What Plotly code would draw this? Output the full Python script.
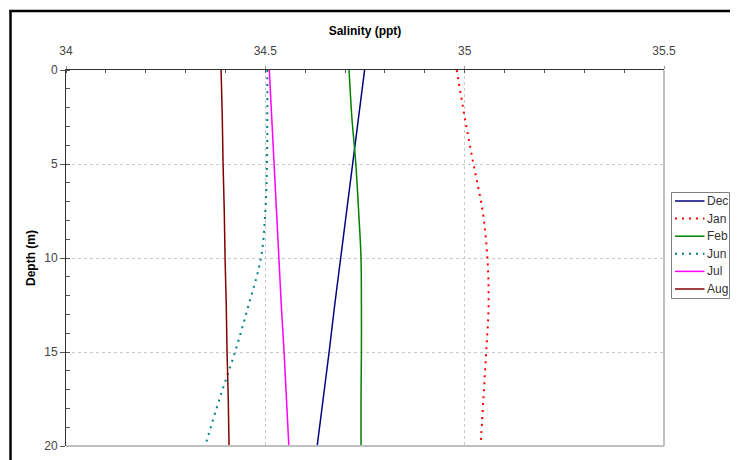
import plotly.graph_objects as go

depth = [0, 2.5, 5, 7.5, 10, 12.5, 15, 17.5, 20]

dec = [34.749, 34.734, 34.719, 34.704, 34.689, 34.674, 34.660, 34.645, 34.630]
jan = [34.980, 35.000, 35.022, 35.045, 35.057, 35.060, 35.054, 35.047, 35.040]
feb = [34.710, 34.717, 34.727, 34.734, 34.740, 34.741, 34.741, 34.740, 34.740]
jun = [34.505, 34.505, 34.504, 34.500, 34.489, 34.458, 34.424, 34.385, 34.349]
jul = [34.510, 34.516, 34.522, 34.528, 34.534, 34.540, 34.547, 34.553, 34.559]
aug = [34.389, 34.392, 34.394, 34.397, 34.399, 34.402, 34.404, 34.407, 34.409]

series = [
    ("Dec", dec, "#000080", "solid"),
    ("Jan", jan, "#ff0000", "2px,5px"),
    ("Feb", feb, "#008000", "solid"),
    ("Jun", jun, "#008080", "2px,5px"),
    ("Jul", jul, "#ff00ff", "solid"),
    ("Aug", aug, "#800000", "solid"),
]

OFF = 8  # page body margin
W, H = 738 - OFF, 460 - OFF
L, R, T, B = 66 - OFF, 664 - OFF, 70 - OFF, 446 - OFF


def px(xs):
    return (xs - OFF - L) / (R - L)


def py(ys):
    return 1 - (ys - OFF - T) / (B - T)


fig = go.Figure()
for name, vals, color, dash in series:
    fig.add_trace(go.Scatter(
        x=vals, y=depth, name=name, mode="lines",
        line=dict(color=color, width=2 if dash != "solid" else 1.5, dash=dash, shape="spline"),
    ))

LX0, LX1 = 671.5, 729.5  # legend box edges (screen px)
shapes = [
    dict(type="line", xref="paper", yref="paper", x0=1, x1=1, y0=0, y1=1,
         line=dict(color="#c0c0c0", width=2)),
    dict(type="line", xref="paper", yref="paper", x0=0, x1=1, y0=0, y1=0,
         line=dict(color="#c0c0c0", width=2)),
    dict(type="line", xref="paper", yref="paper", x0=px(10.5), x1=px(10.5), y0=py(10), y1=py(480),
         line=dict(color="#000000", width=2.5)),
    dict(type="line", xref="paper", yref="paper", x0=px(9.5), x1=px(760), y0=py(11), y1=py(11),
         line=dict(color="#000000", width=2.5)),
    # legend box
    dict(type="rect", xref="paper", yref="paper", x0=px(LX0), x1=px(LX1), y0=py(192.5), y1=py(298.5),
         line=dict(color="#808080", width=1), fillcolor="white"),
]
annotations = []
for i, (name, vals, color, dash) in enumerate(series):
    yc = 201 + i * 17.6
    shapes.append(dict(type="line", xref="paper", yref="paper",
                       x0=px(LX0 + 3.5), x1=px(LX0 + 33), y0=py(yc), y1=py(yc),
                       line=dict(color=color, width=2 if dash != "solid" else 1.5, dash=dash)))
    annotations.append(dict(xref="paper", yref="paper", x=px(LX0 + 33), y=py(yc),
                            xanchor="left", yanchor="middle", text=name, showarrow=False,
                            font=dict(size=12, color="#333333")))

fig.update_layout(
    width=W, height=H,
    margin=dict(l=L, r=W - R, t=T, b=H - B, autoexpand=False),
    paper_bgcolor="white", plot_bgcolor="white",
    font=dict(family="Liberation Sans, Arial, sans-serif", size=12, color="#444444"),
    showlegend=False,
    xaxis=dict(
        side="top", range=[34, 35.5], tickvals=[34, 34.5, 35, 35.5],
        ticktext=["34", "34.5", "35", "35.5"],
        showline=True, linecolor="#333333", linewidth=1,
        ticks="outside", ticklen=3, tickcolor="#999999",
        ticklabelstandoff=6,
        showgrid=True, gridcolor="#c8c8c8", griddash="dot", gridwidth=1,
        zeroline=False, automargin=False,
        minor=dict(dtick=0.1, ticks="inside", ticklen=3, tickcolor="#555555", showgrid=False),
        title=dict(text="<b>Salinity (ppt)</b>", font=dict(size=12, color="#000000"), standoff=6),
    ),
    yaxis=dict(
        range=[20, 0], tickvals=[0, 5, 10, 15, 20],
        showline=True, linecolor="#333333", linewidth=1,
        ticks="outside", ticklen=5, tickcolor="#555555",
        showgrid=True, gridcolor="#c8c8c8", griddash="dot", gridwidth=1,
        zeroline=False, automargin=False,
        minor=dict(dtick=1, ticks="inside", ticklen=4, tickcolor="#555555", showgrid=False),
        title=dict(text="<b>Depth (m)</b>", font=dict(size=12, color="#000000"), standoff=6),
    ),
    shapes=shapes,
    annotations=annotations,
)

fig.write_html("out.html")
